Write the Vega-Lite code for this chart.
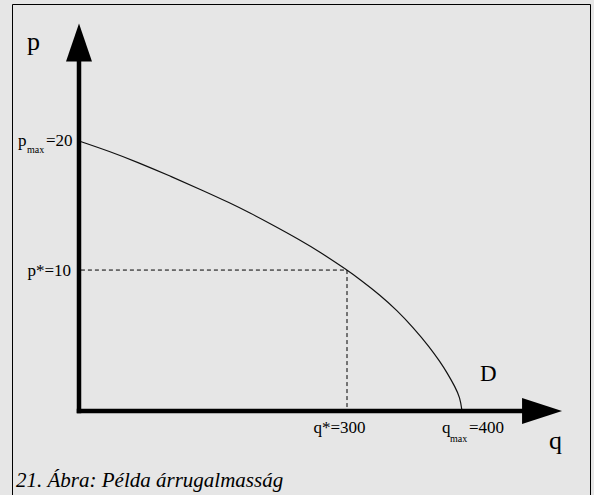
{
  "$schema": "https://vega.github.io/schema/vega-lite/v6.json",
  "width": 578,
  "height": 496,
  "autosize": {"type": "none"},
  "padding": {"left": 12, "top": 4, "right": 4, "bottom": -5},
  "background": "#e6e6e6",
  "config": {
    "view": {"stroke": "#000000", "strokeWidth": 1, "fill": "#e6e6e6"},
    "font": "Liberation Serif",
    "text": {"font": "Liberation Serif"}
  },
  "encoding": {
    "x": {"field": "q", "type": "quantitative", "scale": {"domain": [-69.97, 533.68], "nice": false, "zero": false}, "axis": null},
    "y": {"field": "p", "type": "quantitative", "scale": {"domain": [-6.593, 30.148], "nice": false, "zero": false}, "axis": null}
  },
  "layer": [
    {
      "data": {"values": [
        {"q": 0, "p": 20}, {"q": 32.38, "p": 19.22}, {"q": 60.57, "p": 18.44}, {"q": 95.04, "p": 17.41},
        {"q": 129.5, "p": 16.33}, {"q": 157.7, "p": 15.41}, {"q": 178.59, "p": 14.67}, {"q": 199.48, "p": 13.89},
        {"q": 230.81, "p": 12.67}, {"q": 251.7, "p": 11.78}, {"q": 279.9, "p": 10.44}, {"q": 293.47, "p": 9.74},
        {"q": 314.36, "p": 8.59}, {"q": 332.11, "p": 7.45}, {"q": 348.83, "p": 6.2}, {"q": 366.58, "p": 4.7},
        {"q": 377.02, "p": 3.65}, {"q": 384.33, "p": 2.85}, {"q": 392.69, "p": 1.8}, {"q": 397.91, "p": 1.0},
        {"q": 400, "p": 0}
      ]},
      "mark": {"type": "line", "interpolate": "basis", "color": "#111111", "strokeWidth": 1.2},
      "encoding": {"order": {"field": "q", "type": "quantitative"}}
    },
    {
      "data": {"values": [{"q": 2, "p": 10.44, "q2": 279.9, "p2": 10.44}, {"q": 279.9, "p": 10.44, "q2": 279.9, "p2": 0.2}]},
      "mark": {"type": "rule", "color": "#000000", "strokeWidth": 1, "strokeDash": [4, 3]},
      "encoding": {"x2": {"field": "q2"}, "y2": {"field": "p2"}}
    },
    {
      "data": {"values": [{"q": 0, "p": 0, "q2": 0, "p2": 25.85}, {"q": 0, "p": 0, "q2": 462.7, "p2": 0}]},
      "mark": {"type": "rule", "color": "#000000", "strokeWidth": 4.5, "strokeCap": "square"},
      "encoding": {"x2": {"field": "q2"}, "y2": {"field": "p2"}}
    },
    {
      "data": {"values": [{"q": 0, "p": 27.3}]},
      "mark": {"type": "point", "shape": "M0,-1L-0.684,1L0.684,1Z", "size": 1444, "filled": true, "fill": "#000000", "strokeWidth": 0, "opacity": 1}
    },
    {
      "data": {"values": [{"q": 483.6, "p": 0}]},
      "mark": {"type": "point", "shape": "M1,0L-1,-0.65L-1,0.65Z", "size": 1600, "filled": true, "fill": "#000000", "strokeWidth": 0, "opacity": 1}
    },
    {
      "data": {"values": [
        {"q": -63.7, "p": 19.63, "label": "p"},
        {"q": -34.5, "p": 19.63, "label": "=20"},
        {"q": 379.1, "p": -1.63, "label": "q"},
        {"q": 407.3, "p": -1.63, "label": "=400"}
      ]},
      "mark": {"type": "text", "font": "Liberation Serif", "align": "left", "baseline": "alphabetic", "fontSize": 17, "color": "#000000"},
      "encoding": {"text": {"field": "label"}}
    },
    {
      "data": {"values": [
        {"q": -54.3, "p": 19.11, "label": "max"},
        {"q": 387.5, "p": -2.3, "label": "max"}
      ]},
      "mark": {"type": "text", "font": "Liberation Serif", "align": "left", "baseline": "alphabetic", "fontSize": 10, "color": "#000000"},
      "encoding": {"text": {"field": "label"}}
    },
    {
      "data": {"values": [{"q": -8.36, "p": 10.0, "label": "p*=10"}]},
      "mark": {"type": "text", "font": "Liberation Serif", "align": "right", "baseline": "alphabetic", "fontSize": 17, "color": "#000000"},
      "encoding": {"text": {"field": "label"}}
    },
    {
      "data": {"values": [{"q": 272.06, "p": -1.63, "label": "q*=300"}]},
      "mark": {"type": "text", "font": "Liberation Serif", "align": "center", "baseline": "alphabetic", "fontSize": 17, "color": "#000000"},
      "encoding": {"text": {"field": "label"}}
    },
    {
      "data": {"values": [
        {"q": -54.3, "p": 26.72, "label": "p"},
        {"q": 490.86, "p": -2.81, "label": "q"}
      ]},
      "mark": {"type": "text", "font": "Liberation Serif", "align": "left", "baseline": "alphabetic", "fontSize": 26, "color": "#000000"},
      "encoding": {"text": {"field": "label"}}
    },
    {
      "data": {"values": [{"q": 418.8, "p": 2.22, "label": "D"}]},
      "mark": {"type": "text", "font": "Liberation Serif", "align": "left", "baseline": "alphabetic", "fontSize": 23, "color": "#000000"},
      "encoding": {"text": {"field": "label"}}
    },
    {
      "data": {"values": [{"q": -65.8, "p": -5.63, "label": "21. Ábra: Példa árrugalmasság"}]},
      "mark": {"type": "text", "font": "Liberation Serif", "fontStyle": "italic", "align": "left", "baseline": "alphabetic", "fontSize": 21, "color": "#000000"},
      "encoding": {"text": {"field": "label"}}
    }
  ]
}
